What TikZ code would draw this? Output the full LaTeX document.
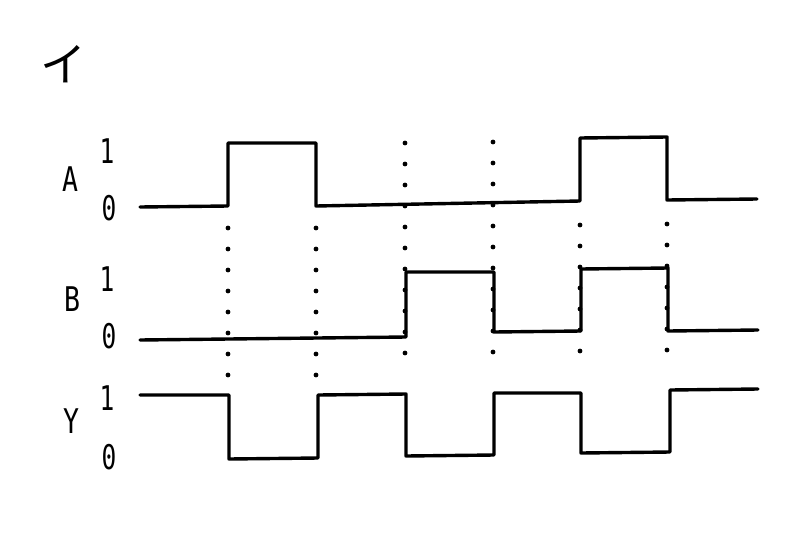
\documentclass[tikz,border=0pt]{standalone}
\usepackage{fontspec}
\setmonofont{DejaVu Sans Mono}
\newfontfamily\jpfont{Noto Sans CJK JP}
\usepackage{tikz}

\begin{document}
\begin{tikzpicture}[line cap=round,line join=round,x=0.5pt,y=-0.5pt,
  wave/.style={line width=1.7pt},
  guide/.style={line width=2.4pt,dash pattern=on 0pt off 10.5pt},
  sig/.style={font=\ttfamily\fontsize{17}{17}\selectfont,xscale=0.78},
  lvl/.style={font=\ttfamily\fontsize{17}{17}\selectfont,xscale=0.72},
  jp/.style={font=\jpfont\fontsize{23}{23}\selectfont}]
\useasboundingbox (0,0) rectangle (806,535);
% guides
\draw[guide] (228,228) -- (228,376);
\draw[guide] (316,228) -- (316,376);
\draw[guide] (405,143) -- (405,373);
\draw[guide] (493,142) -- (493,372);
\draw[guide] (580,225) -- (580,371);
\draw[guide] (667,224) -- (667,370);
% A
\draw[wave] (140,207) -- (228,206) -- (228,143) -- (316,143) -- (316,206)
  -- (580,201) -- (580,138) -- (667,137) -- (667,200) -- (757,199);
% B
\draw[wave] (140,340) -- (406,337) -- (406,272) -- (494,272) -- (494,332)
  -- (581,331) -- (581,269) -- (668,268) -- (668,331) -- (758,330);
% Y
\draw[wave] (140,395) -- (229,395) -- (229,459) -- (318,458) -- (318,395)
  -- (406,394) -- (406,456) -- (494,455) -- (494,393) -- (581,393)
  -- (581,453) -- (670,452) -- (670,390) -- (758,389);
% labels
\node[jp] (title) at (63,64) {イ};
\node[sig] (labA) at (70,179) {A};
\node[lvl] (a1) at (107,151) {1};
\node[lvl] (a0) at (109,208) {0};
\node[sig] (labB) at (72,299) {B};
\node[lvl] (b1) at (107,279) {1};
\node[lvl] (b0) at (109,336) {0};
\node[sig] (labY) at (71,421) {Y};
\node[lvl] (y1) at (107,398) {1};
\node[lvl] (y0) at (109,457) {0};
\end{tikzpicture}
\end{document}
